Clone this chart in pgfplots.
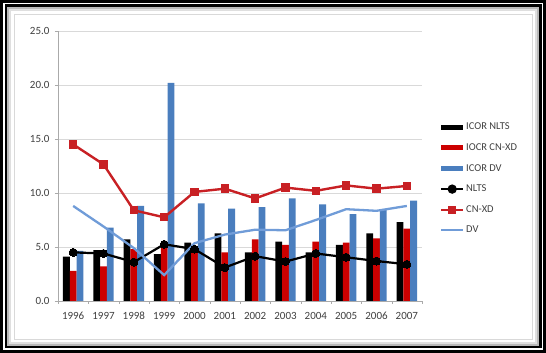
\documentclass[border=0pt]{standalone}
\usepackage{pgfplots}
\pgfplotsset{compat=1.18}
\usepackage{fontspec}
\setmainfont{Carlito}
\definecolor{barred}{RGB}{204,0,0}
\definecolor{linered}{RGB}{200,32,36}
\definecolor{barblue}{RGB}{74,126,190}
\definecolor{lineblue}{RGB}{112,156,216}
\definecolor{txt}{RGB}{64,64,64}
\definecolor{gridc}{RGB}{217,217,217}
\definecolor{axc}{RGB}{170,170,170}
\begin{document}
\begin{tikzpicture}[x=1pt,y=1pt]
% frame
\fill[black] (0,0) rectangle (546,353);
\fill[white] (3,3) rectangle (543,350);
\fill[black] (4.5,4.5) rectangle (541.5,348.5);
\fill[gray!55] (7,7) rectangle (539,346);
\fill[gray!25] (9,9) rectangle (537,344);
\fill[white] (11,11) rectangle (535,342);
\draw[gray!30, line width=0.6pt] (14,14) rectangle (532,339);
\begin{axis}[
  at={(58pt,52pt)}, anchor=south west,
  scale only axis, width=364pt, height=270pt,
  xmin=-0.5, xmax=11.5, ymin=0, ymax=25,
  xtick={0,...,11},
  xticklabels={1996,1997,1998,1999,2000,2001,2002,2003,2004,2005,2006,2007},
  major x tick style={draw=none},
  minor xtick={-0.5,0.5,...,11.5},
  minor x tick style={axc},
  minor tick length=3pt,
  ytick={0,5,...,25},
  major tick length=3pt,
  y tick style={axc},
  tick align=outside,
  axis x line*=bottom, axis y line*=left,
  axis line style={axc, line width=0.6pt},
  ymajorgrids, grid style={gridc, line width=0.8pt},
  /pgf/number format/fixed, /pgf/number format/fixed zerofill,
  /pgf/number format/precision=1, /pgf/number format/assume math mode=true,
  ticklabel style={font=\fontsize{11}{12}\selectfont, text=txt},
  xticklabel style={yshift=-4pt, text height=8pt, text depth=0pt},
  yticklabel style={xshift=-2pt},
  legend style={at={(axis description cs:1,0.667)}, anchor=north west, xshift=18pt,
    draw=none, fill=none, font=\fontsize{10.5}{12}\selectfont, text=txt,
    row sep=8.3pt, inner sep=0pt, cells={anchor=west}},
  legend cell align=left,
  clip=false,
]
\addplot[ybar, bar width=6.8pt, bar shift=-6.8pt, fill=black, draw=none,
  legend image code/.code={\fill[black] (0pt,-2.5pt) rectangle (22pt,2.5pt);}]
  coordinates {(0,4.1) (1,4.7) (2,5.7) (3,4.35) (4,5.4) (5,6.25) (6,4.5) (7,5.5) (8,4.5) (9,5.2) (10,6.25) (11,7.3)};
\addlegendentry{ICOR NLTS}
\addplot[ybar, bar width=6.8pt, bar shift=0pt, fill=barred, draw=none,
  legend image code/.code={\fill[barred] (0pt,-2.5pt) rectangle (22pt,2.5pt);}]
  coordinates {(0,2.8) (1,3.2) (2,4.8) (3,5.1) (4,4.6) (5,4.5) (6,5.7) (7,5.2) (8,5.5) (9,5.4) (10,5.8) (11,6.7)};
\addlegendentry{IOCR CN-XD}
\addplot[ybar, bar width=6.8pt, bar shift=6.8pt, fill=barblue, draw=none,
  legend image code/.code={\fill[barblue] (0pt,-2.5pt) rectangle (22pt,2.5pt);}]
  coordinates {(0,4.65) (1,6.8) (2,8.8) (3,20.2) (4,9.05) (5,8.55) (6,8.7) (7,9.5) (8,8.95) (9,8.05) (10,8.5) (11,9.3)};
\addlegendentry{ICOR DV}
\addplot[black, line width=2.2pt, mark=*, mark size=4pt, mark options={fill=black, draw=black, line width=0pt},
  legend image code/.code={\draw[black, line width=2pt] (0pt,0pt) -- (22pt,0pt); \fill[black] (11pt,0pt) circle (3.5pt);}]
  coordinates {(0,4.5) (1,4.4) (2,3.6) (3,5.25) (4,4.8) (5,3.1) (6,4.15) (7,3.65) (8,4.4) (9,4.05) (10,3.7) (11,3.4)};
\addlegendentry{NLTS}
\addplot[linered, line width=2.4pt, mark=square*, mark size=3.7pt, mark options={fill=linered, draw=linered, line width=0pt},
  legend image code/.code={\draw[linered, line width=2pt] (0pt,0pt) -- (22pt,0pt); \fill[linered] (8pt,-3pt) rectangle (14pt,3pt);}]
  coordinates {(0,14.5) (1,12.65) (2,8.4) (3,7.75) (4,10.1) (5,10.4) (6,9.5) (7,10.5) (8,10.2) (9,10.7) (10,10.4) (11,10.65)};
\addlegendentry{CN-XD}
\addplot[lineblue, line width=2.3pt, mark=none,
  legend image code/.code={\draw[lineblue, line width=2pt] (0pt,0pt) -- (22pt,0pt);}]
  coordinates {(0,8.8) (1,6.9) (2,4.9) (3,2.4) (4,5.35) (5,6.15) (6,6.6) (7,6.55) (8,7.5) (9,8.5) (10,8.35) (11,8.8)};
\addlegendentry{DV}
\end{axis}
\end{tikzpicture}
\end{document}
